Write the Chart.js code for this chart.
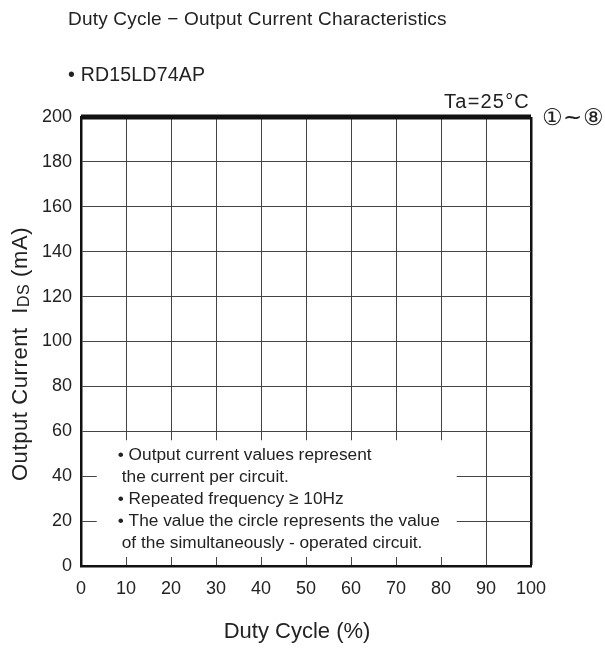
<!DOCTYPE html>
<html>
<head>
<meta charset="utf-8">
<script src="https://cdn.jsdelivr.net/npm/chart.js@4.4.0/dist/chart.umd.min.js"></script>
<style>
  html, body { margin: 0; padding: 0; background: #fff; }
  #wrap { width: 605px; height: 648px; }
</style>
</head>
<body>
<div id="wrap"><canvas id="dutyChart" width="605" height="648"></canvas></div>
<script>
// data
var dutyCycle = [0, 100];          // %
var outputCurrent = [200, 200];    // mA, circuits 1~8
var xTicks = [0, 10, 20, 30, 40, 50, 60, 70, 80, 90, 100];
var yTicks = [0, 20, 40, 60, 80, 100, 120, 140, 160, 180, 200];
var seriesLabel = '\u2460~\u2467';
var notes = [
    { t: '\u2022 Output current values represent', indent: 0 },
    { t: 'the current per circuit.', indent: 1 },
    { t: '\u2022 Repeated frequency \u2265 10Hz', indent: 0 },
    { t: '\u2022 The value the circle represents the value', indent: 0 },
    { t: 'of the simultaneously - operated circuit.', indent: 1 }
];

var FONT = '"Liberation Sans", Arial, sans-serif';
var INK = '#222';

function spaced(ctx, px) {
    if ('letterSpacing' in ctx) ctx.letterSpacing = px + 'px';
}

var extras = {
    id: 'extras',
    beforeDatasetsDraw: function (chart) {
        var ctx = chart.ctx, xs = chart.scales.x, ys = chart.scales.y;
        // white note box over the grid
        var x0 = xs.getPixelForValue(3.5), x1 = xs.getPixelForValue(83.5);
        var y0 = ys.getPixelForValue(56), y1 = ys.getPixelForValue(4);
        ctx.save();
        ctx.fillStyle = '#fff';
        ctx.fillRect(x0, y0, x1 - x0, y1 - y0);
        ctx.fillStyle = INK;
        ctx.font = '17.3px ' + FONT;
        ctx.textBaseline = 'middle';
        notes.forEach(function (n, i) {
            ctx.fillText(n.t, x0 + (n.indent ? 25 : 21), y0 + 15 + i * 22);
        });
        ctx.restore();
    },
    afterDraw: function (chart) {
        var ctx = chart.ctx, area = chart.chartArea;
        ctx.save();
        ctx.fillStyle = INK;
        ctx.textBaseline = 'alphabetic';
        ctx.font = '19px ' + FONT;
        spaced(ctx, 0.2);
        ctx.fillText('Duty Cycle \u2212 Output Current Characteristics', 68, 25);
        ctx.font = '19.5px ' + FONT;
        ctx.fillText('\u2022 RD15LD74AP', 68, 81);
        ctx.textAlign = 'right';
        ctx.font = '20px ' + FONT;
        spaced(ctx, 1.2);
        ctx.fillText('Ta=25\u00B0C', area.right - 1, 108);

        // x axis title
        ctx.textAlign = 'center';
        ctx.font = '22px ' + FONT;
        spaced(ctx, 0);
        ctx.fillText('Duty Cycle (%)', (area.left + area.right) / 2 - 9, 638);

        // series label at the end of the line
        var meta = chart.getDatasetMeta(0);
        var last = meta.data[meta.data.length - 1];
        ctx.textAlign = 'left';
        ctx.textBaseline = 'middle';
        ctx.font = '23px "DejaVu Sans", ' + FONT;
        spaced(ctx, 0.5);
        ctx.fillText(seriesLabel, last.x + 11, last.y + 2);

        // y axis title with subscript
        ctx.translate(21, 354);
        ctx.rotate(-Math.PI / 2);
        ctx.textBaseline = 'middle';
        spaced(ctx, 0.6);
        var parts = [
            { t: 'Output Current  I', f: '22px ' },
            { t: 'DS', f: '16px ', dy: 4 },
            { t: ' (mA)', f: '22px ' }
        ];
        var total = 0;
        parts.forEach(function (p) { ctx.font = p.f + FONT; p.w = ctx.measureText(p.t).width; total += p.w; });
        var cx = -total / 2;
        parts.forEach(function (p) {
            ctx.font = p.f + FONT;
            ctx.fillText(p.t, cx, p.dy || 0);
            cx += p.w;
        });
        ctx.restore();
    }
};

new Chart(document.getElementById('dutyChart').getContext('2d'), {
    type: 'line',
    data: {
        labels: dutyCycle,
        datasets: [{
            label: seriesLabel,
            data: dutyCycle.map(function (d, i) { return { x: d, y: outputCurrent[i] }; }),
            borderColor: '#111',
            borderWidth: 5,
            pointRadius: 0,
            clip: false
        }]
    },
    options: {
        responsive: false,
        animation: false,
        layout: { padding: { left: 0, right: 74, top: 117, bottom: 0 } },
        plugins: { legend: { display: false }, tooltip: { enabled: false } },
        scales: {
            x: {
                type: 'linear',
                min: 0,
                max: 100,
                afterFit: function (s) { s.height = 82; },
                afterBuildTicks: function (s) { s.ticks = xTicks.map(function (v) { return { value: v }; }); },
                grid: {
                    drawTicks: false,
                    color: function (c) { return c.tick && c.tick.value === 100 ? '#111' : '#444'; },
                    lineWidth: function (c) { return c.tick && c.tick.value === 100 ? 2.5 : 1; }
                },
                border: { color: '#111', width: 2.5 },
                ticks: { padding: 12, color: INK, font: { family: FONT, size: 18 } }
            },
            y: {
                type: 'linear',
                min: 0,
                max: 200,
                afterFit: function (s) { s.width = 81; },
                afterBuildTicks: function (s) { s.ticks = yTicks.map(function (v) { return { value: v }; }); },
                grid: { drawTicks: false, color: '#444', lineWidth: 1 },
                border: { color: '#111', width: 2.5 },
                ticks: { padding: 9, color: INK, font: { family: FONT, size: 18 } }
            }
        }
    },
    plugins: [extras]
});
</script>
</body>
</html>
